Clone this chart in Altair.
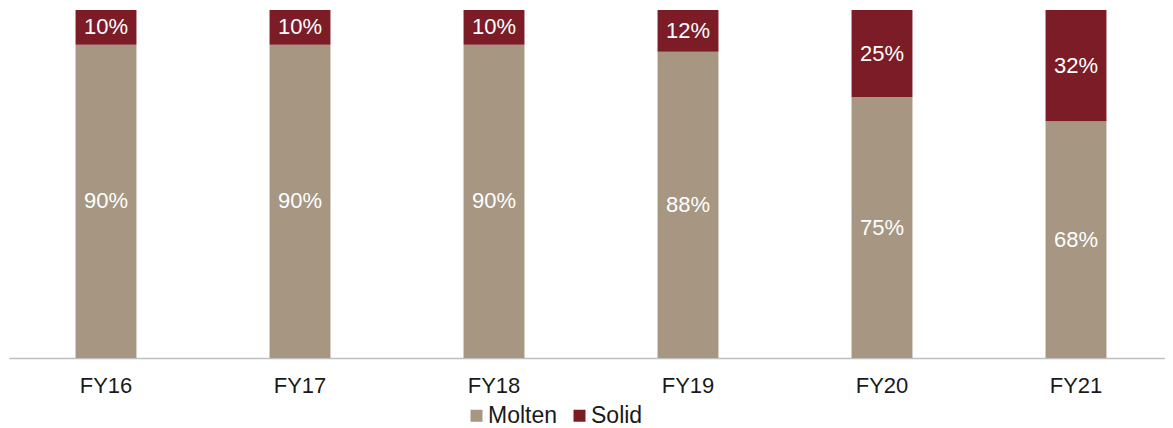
import altair as alt
import pandas as pd

years = ["FY16", "FY17", "FY18", "FY19", "FY20", "FY21"]
molten = [90, 90, 90, 88, 75, 68]
solid = [10, 10, 10, 12, 25, 32]
series = ["Molten", "Solid"]
colors = ["#a69682", "#7b1c27"]

rows = []
for i, y in enumerate(years):
    rows.append({"year": y, "type": "Molten", "value": molten[i], "ord": 0})
    rows.append({"year": y, "type": "Solid", "value": solid[i], "ord": 1})
df = pd.DataFrame(rows)

FONT = "Liberation Sans"

base = alt.Chart(df).transform_stack(
    stack="value", as_=["v0", "v1"], groupby=["year"],
    sort=[alt.SortField("ord", order="ascending")]
).transform_calculate(
    mid="(datum.v0 + datum.v1) / 2",
    label="datum.value + '%'"
)

x = alt.X("year:N", sort=years, title=None,
          scale=alt.Scale(paddingInner=0.686, paddingOuter=0.343, range=[0, 1164]),
          axis=alt.Axis(labelAngle=0, ticks=False, domainColor="#bfbfbf",
                        domainWidth=1.5, labelFont=FONT, labelFontSize=22,
                        labelColor="#1a1a1a", labelPadding=17))

bars = base.mark_bar().encode(
    x=x,
    y=alt.Y("v0:Q", scale=alt.Scale(domain=[0, 100]), axis=None),
    y2="v1:Q",
    color=alt.Color("type:N", scale=alt.Scale(domain=series, range=colors),
                    legend=alt.Legend(title=None, orient="none", direction="horizontal",
                                      legendX=456, legendY=394, padding=0,
                                      symbolType="square", symbolSize=144,
                                      symbolStrokeWidth=0, labelOffset=0,
                                      columnPadding=10, labelFont=FONT,
                                      labelFontSize=23, labelColor="#1a1a1a")),
)

texts = base.mark_text(color="white", font=FONT, fontSize=22, baseline="middle").encode(
    x=alt.X("year:N", sort=years),
    y=alt.Y("mid:Q"),
    text="label:N",
)

chart = alt.layer(bars, texts).properties(
    width=1156, height=348,
    autosize=alt.AutoSizeParams(type="none"),
    padding={"left": 1, "top": 2, "right": 0, "bottom": 70},
).configure_view(stroke=None)

chart.save("out.html", embed_options={"renderer": "svg", "actions": False})
